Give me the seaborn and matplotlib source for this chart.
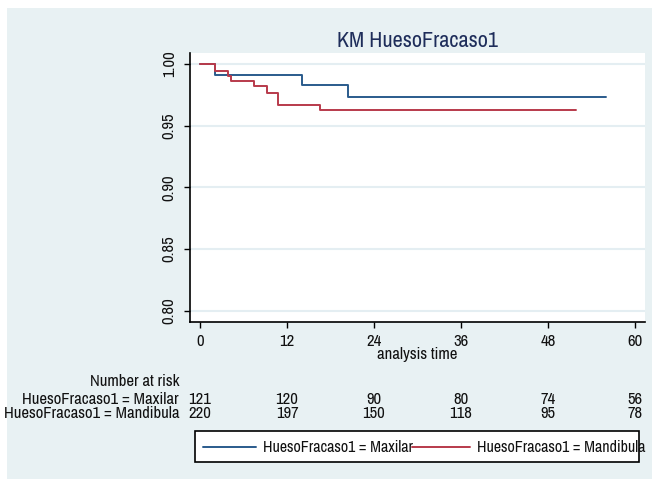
import matplotlib
matplotlib.use("Agg")
import matplotlib.pyplot as plt
import seaborn as sns
import pandas as pd
from matplotlib import font_manager
from matplotlib.lines import Line2D
from matplotlib.patches import Rectangle
import matplotlib.transforms as mtransforms

# ---- data ----
groups = ["HuesoFracaso1 = Maxilar", "HuesoFracaso1 = Mandibula"]
maxilar_time = [0, 2.1, 14.1, 20.4, 56.0]
maxilar_surv = [1.0, 0.9915, 0.983, 0.9735, 0.9735]
mandibula_time = [0, 2.1, 3.8, 4.3, 7.45, 9.3, 10.7, 16.55, 51.9]
mandibula_surv = [1.0, 0.9947, 0.9907, 0.9862, 0.982, 0.9764, 0.9667, 0.9629, 0.9629]
x_ticks = [0, 12, 24, 36, 48, 60]
y_ticks = [0.80, 0.85, 0.90, 0.95, 1.00]
risk_maxilar = [121, 120, 90, 80, 74, 56]
risk_mandibula = [220, 197, 150, 118, 95, 78]
title = "KM HuesoFracaso1"
xlabel = "analysis time"

colors = {"HuesoFracaso1 = Maxilar": "#2a5b8c", "HuesoFracaso1 = Mandibula": "#b83a4b"}

df = pd.concat([
    pd.DataFrame({"t": maxilar_time, "s": maxilar_surv, "g": groups[0]}),
    pd.DataFrame({"t": mandibula_time, "s": mandibula_surv, "g": groups[1]}),
], ignore_index=True)

names = {f.name for f in font_manager.fontManager.ttflist}
if "Liberation Sans Narrow" in names:
    fam = ["Liberation Sans Narrow", "DejaVu Sans"]
elif "Archivo Narrow" in names:
    fam = ["Archivo Narrow", "DejaVu Sans"]
else:
    fam = ["Liberation Sans", "DejaVu Sans"]

sns.set_theme(style="white")
plt.rcParams["font.family"] = fam

W, H = 652, 479
fig = plt.figure(figsize=(W / 100, H / 100), dpi=100)
fig.patch.set_facecolor("white")
bg = Rectangle((7 / W, 0), 1 - 7 / W, 1 - 8 / H, transform=fig.transFigure,
               facecolor="#e8f1f3", edgecolor="none", zorder=-10)
fig.patches.append(bg)

def fx(px):
    return px / W

def fy(py):
    return 1 - py / H

ax = fig.add_axes([fx(190), fy(322), fx(645) - fx(190), fy(53) - fy(322)])
ax.set_facecolor("white")

sns.lineplot(data=df, x="t", y="s", hue="g", palette=colors, estimator=None,
             sort=False, drawstyle="steps-post", linewidth=1.4, legend=False, ax=ax)

ax.set_xlim(-1.38, 61.38)
ax.set_ylim(0.7908, 1.009)
ax.set_xticks(x_ticks)
ax.set_yticks(y_ticks)
ax.set_xticklabels([str(v) for v in x_ticks])
ax.set_yticklabels([f"{v:.2f}" for v in y_ticks], rotation=90, va="center")
for yv in y_ticks:
    ax.axhline(yv, color="#e4eef2", linewidth=1.5, zorder=0)

for s in ["top", "right"]:
    ax.spines[s].set_visible(False)
for s in ["left", "bottom"]:
    ax.spines[s].set_color("black")
    ax.spines[s].set_linewidth(1.2)
FS = 12
ax.tick_params(axis="both", which="major", length=4.5, width=1.0, color="black",
               labelsize=FS, labelcolor="#111111", bottom=True, left=True)
ax.tick_params(axis="x", pad=4)
ax.tick_params(axis="y", pad=5)

ax.set_xlabel(xlabel, fontsize=FS, labelpad=-1, color="#111111")
ax.set_ylabel("")
ax.set_title(title, fontsize=16, color="#1e2d5a", pad=4)

# ---- number at risk table ----
trans = mtransforms.blended_transform_factory(ax.transData, fig.transFigure)
fig.text(fx(179), fy(381), "Number at risk", ha="right", va="center", fontsize=FS, color="#111111")
for row_y, label, vals in [(399, groups[0], risk_maxilar), (413, groups[1], risk_mandibula)]:
    fig.text(fx(179), fy(row_y), label, ha="right", va="center", fontsize=FS, color="#111111")
    for xv, n in zip(x_ticks, vals):
        ax.text(xv, fy(row_y), str(n), transform=trans, ha="center", va="center",
                fontsize=FS, color="#111111", clip_on=False)

# ---- legend ----
LFS = 11.5
fig.patches.append(Rectangle((fx(195), fy(462)), fx(639) - fx(195), fy(431) - fy(462),
                             transform=fig.transFigure, facecolor="white",
                             edgecolor="black", linewidth=1.2, zorder=1))
ly = fy(447)
fig.lines.append(Line2D([fx(203), fx(256)], [ly, ly], transform=fig.transFigure,
                        color=colors[groups[0]], linewidth=1.4, zorder=2))
fig.text(fx(263), ly, groups[0], ha="left", va="center", fontsize=LFS, color="#111111", zorder=3)
fig.lines.append(Line2D([fx(412), fx(470)], [ly, ly], transform=fig.transFigure,
                        color=colors[groups[1]], linewidth=1.4, zorder=2))
fig.text(fx(477), ly, groups[1], ha="left", va="center", fontsize=LFS, color="#111111", zorder=3)

fig.savefig("out.png", dpi=100, facecolor=fig.get_facecolor())
